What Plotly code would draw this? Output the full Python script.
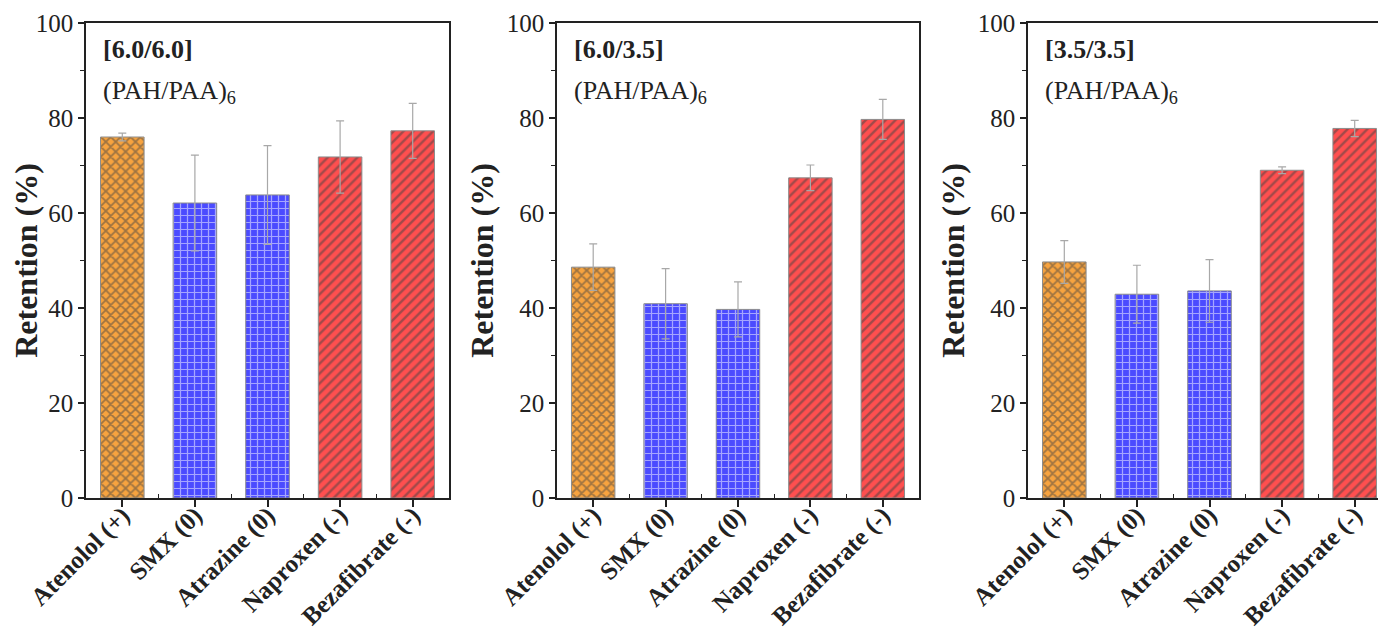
import plotly.graph_objects as go

categories = ["Atenolol (+)", "SMX (0)", "Atrazine (0)", "Naproxen (-)", "Bezafibrate (-)"]
panel_titles = ["[6.0/6.0]", "[6.0/3.5]", "[3.5/3.5]"]
retention_60_60 = [76.0, 62.1, 63.8, 71.8, 77.3]
error_60_60 = [0.8, 10.1, 10.4, 7.6, 5.8]
retention_60_35 = [48.6, 40.9, 39.7, 67.4, 79.7]
error_60_35 = [4.9, 7.4, 5.8, 2.7, 4.2]
retention_35_35 = [49.7, 42.9, 43.6, 69.0, 77.8]
error_35_35 = [4.5, 6.1, 6.6, 0.7, 1.7]
y_ticks = [0, 20, 40, 60, 80, 100]

bar_colors = ["#F7A33F", "#4B4BFF", "#4B4BFF", "#FF4F4F", "#FF4F4F"]
bar_patterns = ["x", "+", "+", "/", "/"]
pattern_solidity = [0.45, 0.32, 0.32, 0.35, 0.35]

values = [retention_60_60, retention_60_35, retention_35_35]
errors = [error_60_60, error_60_35, error_35_35]

# page body has an 8px default margin, so the figure is offset by 8px
W, H = 1378, 624
domains = [(78, 441), (549, 911), (1020, 1378)]
FONT = "Liberation Serif"

fig = go.Figure()
xpos = list(range(len(categories)))

for p in range(3):
    ax = "" if p == 0 else str(p + 1)
    fig.add_trace(go.Bar(
        x=xpos, y=values[p],
        width=0.6,
        marker=dict(
            color=bar_colors,
            line=dict(color="#8c8c8c", width=1),
            pattern=dict(shape=bar_patterns, fgcolor="#111111", size=7, solidity=pattern_solidity),
        ),
        error_y=dict(type="data", array=errors[p], color="#a8a8a8", thickness=1.2, width=4),
        xaxis="x" + ax, yaxis="y" + ax,
        showlegend=False,
    ))
    d0, d1 = domains[p]
    xr = [-0.5, 4.5] if p < 2 else [-0.5, -0.5 + (d1 - d0) / 72.6]
    fig.update_layout(**{
        "xaxis" + ax: dict(
            domain=[d0 / W, d1 / W], range=xr, anchor="y" + ax, automargin=False,
            tickmode="array", tickvals=xpos, ticktext=categories, tickangle=-45,
            ticks="outside", ticklen=7, tickwidth=1.5, tickcolor="#222",
            ticklabelstandoff=-16,
            minor=dict(tickvals=[0.5, 1.5, 2.5, 3.5], ticks="inside", ticklen=4, tickwidth=1, tickcolor="#222"),
            showline=True, linecolor="#222", linewidth=1.5, mirror=True,
            showgrid=False, zeroline=False,
            tickfont=dict(family=FONT, size=25, color="#222", weight="bold"),
        ),
        "yaxis" + ax: dict(
            domain=[0, 1], range=[0, 100], anchor="x" + ax, automargin=False,
            tickmode="array", tickvals=y_ticks,
            ticks="outside", ticklen=6, tickwidth=1.5, tickcolor="#222",
            minor=dict(tickvals=[10, 30, 50, 70, 90], ticks="outside", ticklen=4, tickwidth=1, tickcolor="#222"),
            showline=True, linecolor="#222", linewidth=1.5, mirror=(p < 2),
            showgrid=False, zeroline=False,
            tickfont=dict(family=FONT, size=25, color="#222"),
            title=dict(text="Retention (%)", standoff=4,
                       font=dict(family=FONT, size=32, color="#222", weight="bold")),
        ),
    })
    xd = "x" + ax + " domain"
    yd = "y" + ax + " domain"
    fig.add_annotation(x=15 / (d1 - d0), y=0.945,
                       xref=xd, yref=yd, xanchor="left", yanchor="middle", showarrow=False,
                       text="<b>" + panel_titles[p] + "</b>",
                       font=dict(family=FONT, size=26, color="#222"))
    fig.add_annotation(x=15 / (d1 - d0), y=0.855,
                       xref=xd, yref=yd, xanchor="left", yanchor="middle", showarrow=False,
                       text="(PAH/PAA)<sub>6</sub>",
                       font=dict(family=FONT, size=26, color="#222"))

fig.update_layout(
    width=W, height=H,
    margin=dict(l=0, r=0, t=15, b=134, autoexpand=False),
    paper_bgcolor="white", plot_bgcolor="white",
    bargap=0.4,
)

fig.write_html("out.html")
